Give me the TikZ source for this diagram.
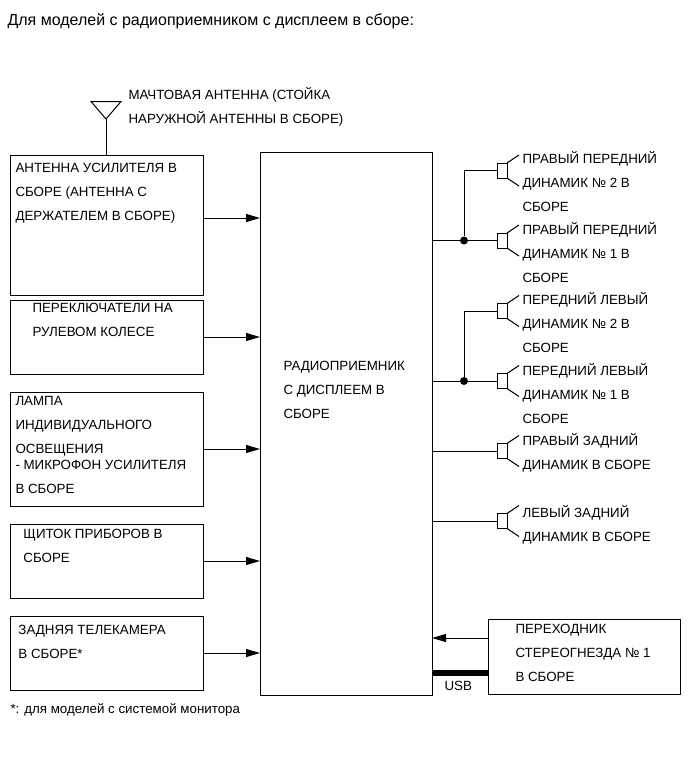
\documentclass[tikz,border=0pt]{standalone}
\usepackage{fontspec}
\setmainfont{Liberation Sans}
\usetikzlibrary{positioning}
\usetikzlibrary{arrows.meta}

\begin{document}
\begin{tikzpicture}[x=0.75pt,y=-0.75pt,line width=0.75pt,>={Triangle[length=10.5pt,width=6pt]}]
    \tikzset{leftbox/.style={draw,rectangle,inner sep=0pt,outer sep=0pt,minimum width=144.75pt,minimum height=#1}}
    \tikzset{bigbox/.style={draw,rectangle,inner sep=0pt,outer sep=0pt}}
    \tikzset{speaker/.style={draw,rectangle,inner sep=0pt,outer sep=0pt,minimum width=7.5pt,minimum height=11.25pt}}
    \tikzset{joint/.style={circle,fill=black,inner sep=0pt,minimum size=6pt}}
    \tikzset{lbl/.style={anchor=base west,inner sep=0pt,align=left,font=\fontsize{10}{18}\selectfont}}
    \useasboundingbox (0,0) rectangle (691,757);

    \node[leftbox=105pt] (antbox) at (106.5,225) {};
    \node[leftbox=55.5pt] (wheelbox) [below=3.75pt of antbox] {};
    \node[leftbox=85.5pt] (lampbox) [below=13.5pt of wheelbox] {};
    \node[leftbox=55.5pt] (clusterbox) [below=13.5pt of lampbox] {};
    \node[leftbox=55.5pt] (camerabox) [below=13.5pt of clusterbox] {};
    \node[bigbox,minimum width=129pt,minimum height=407.25pt] (radio) at (346,423.5) {};
    \node[bigbox,minimum width=144pt,minimum height=56.25pt] (jackbox) at (584.5,656.5) {};

    \coordinate (tip) at (106,119);
    \draw (antbox.north -| tip) -- (tip);
    \draw (91,101.5) -- (121,101.5) -- (tip) -- cycle;

    \foreach \n/\y in {1/170.5,2/240.5,3/311,4/381,5/451,6/521}{
        \node[speaker] (spk\n) at (502,\y) {};
        \draw (spk\n.north east) -- ++(12,-8);
        \draw (spk\n.south east) -- ++(12,8);
    }
    \node[joint] (jointa) at (464,240.5) {};
    \node[joint] (jointb) at (464,381) {};

    \draw[->] (antbox.east |- 0,218) -- (radio.west |- 0,218);
    \draw[->] (wheelbox.east) -- (wheelbox.east -| radio.west);
    \draw[->] (lampbox.east) -- (lampbox.east -| radio.west);
    \draw[->] (clusterbox.east) -- (clusterbox.east -| radio.west);
    \draw[->] (camerabox.east) -- (camerabox.east -| radio.west);
    \draw[->] (jackbox.west |- 0,638) -- (radio.east |- 0,638);
    \draw[line width=5pt] (radio.east |- 0,673) -- (jackbox.west |- 0,673);

    \draw (radio.east |- jointa) -- (spk2.west);
    \draw (jointa) |- (spk1.west);
    \draw (radio.east |- jointb) -- (spk4.west);
    \draw (jointb) |- (spk3.west);
    \draw (radio.east |- spk5) -- (spk5.west);
    \draw (radio.east |- spk6) -- (spk6.west);

    \node[lbl,font=\fontsize{12}{18}\selectfont] (title) at (7,25) {Для моделей с радиоприемником с дисплеем в сборе:};
    \node[lbl] (mast) at (128,123) {МАЧТОВАЯ АНТЕННА (СТОЙКА\\НАРУЖНОЙ АНТЕННЫ В СБОРЕ)};
    \node[lbl] (anttext) at (15,220) {АНТЕННА УСИЛИТЕЛЯ В\\СБОРЕ (АНТЕННА С\\ДЕРЖАТЕЛЕМ В СБОРЕ)};
    \node[lbl] (wheeltext) at (32,336) {ПЕРЕКЛЮЧАТЕЛИ НА\\РУЛЕВОМ КОЛЕСЕ};
    \node[lbl] (lamptext) at (15,493) {ЛАМПА\\ИНДИВИДУАЛЬНОГО\\ОСВЕЩЕНИЯ\\[-6pt]- МИКРОФОН УСИЛИТЕЛЯ\\В СБОРЕ};
    \node[lbl] (clustertext) at (23,562) {ЩИТОК ПРИБОРОВ В\\СБОРЕ};
    \node[lbl] (cameratext) at (18,658) {ЗАДНЯЯ ТЕЛЕКАМЕРА\\В СБОРЕ*};
    \node[lbl] (radiotext) at (283,418) {РАДИОПРИЕМНИК\\С ДИСПЛЕЕМ В\\СБОРЕ};
    \node[lbl] (jacktext) at (515,681) {ПЕРЕХОДНИК\\СТЕРЕОГНЕЗДА № 1\\В СБОРЕ};
    \node[lbl] (usb) at (444,690) {USB};
    \node[lbl] (spktexta) at (522,211) {ПРАВЫЙ ПЕРЕДНИЙ\\ДИНАМИК № 2 В\\СБОРЕ};
    \node[lbl] (spktextb) at (522,282) {ПРАВЫЙ ПЕРЕДНИЙ\\ДИНАМИК № 1 В\\СБОРЕ};
    \node[lbl] (spktextc) at (522,352) {ПЕРЕДНИЙ ЛЕВЫЙ\\ДИНАМИК № 2 В\\СБОРЕ};
    \node[lbl] (spktextd) at (522,423) {ПЕРЕДНИЙ ЛЕВЫЙ\\ДИНАМИК № 1 В\\СБОРЕ};
    \node[lbl] (spktexte) at (522,469) {ПРАВЫЙ ЗАДНИЙ\\ДИНАМИК В СБОРЕ};
    \node[lbl] (spktextf) at (522,541) {ЛЕВЫЙ ЗАДНИЙ\\ДИНАМИК В СБОРЕ};
    \node[lbl] (note) at (10,713) {*: для моделей с системой монитора};
\end{tikzpicture}
\end{document}
